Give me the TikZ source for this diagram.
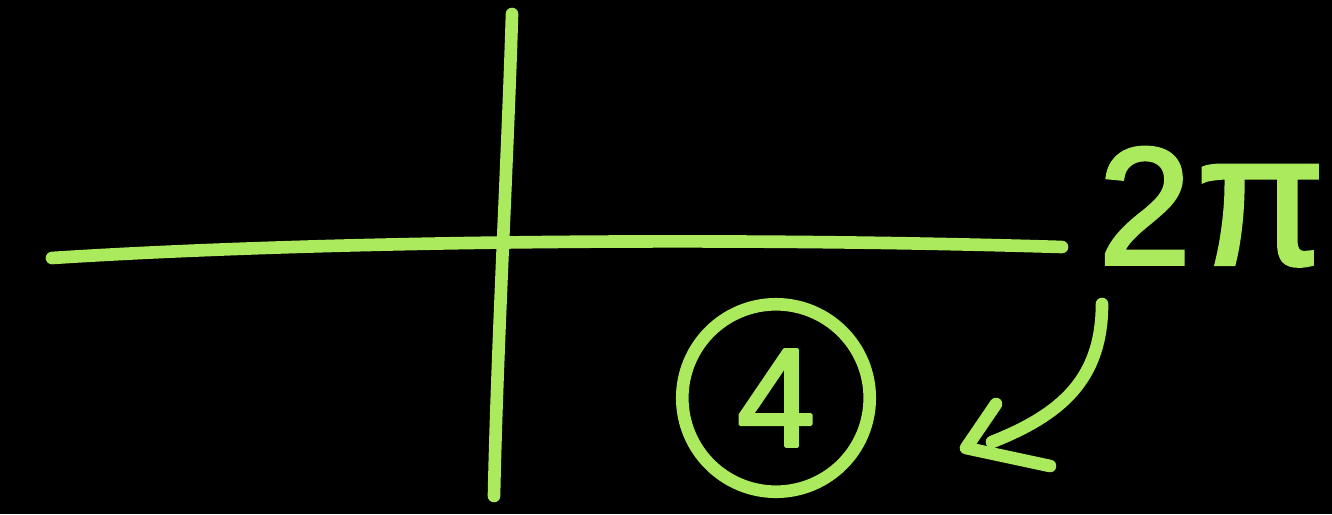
\documentclass[tikz,border=0pt]{standalone}
\usepackage{fontspec}
\setmainfont{Liberation Sans}
\newfontfamily\chalkfont[FakeBold=2.2]{Liberation Sans}
\definecolor{chalk}{RGB}{170,234,92}
\begin{document}
\begin{tikzpicture}[x=0.02cm,y=-0.02cm,
  stroke/.style={draw=chalk,line width=7.2pt,line cap=round,line join=round},
  lbl/.style={text=chalk,inner sep=0pt}]
\fill[black] (0,0) rectangle (1332,514);
\useasboundingbox (0,0) rectangle (1332,514);
% axes
\coordinate (hl) at (52,258);
\coordinate (hr) at (1062,247);
\coordinate (vt) at (512,14);
\coordinate (vb) at (494,496);
\draw[stroke] (hl) .. controls (300,242) and (700,236) .. (hr);
\draw[stroke] (vt) .. controls (508,150) and (497,350) .. (vb);
% 2pi label
\node[lbl,anchor=base west] (twopi) at (1098,264) {\chalkfont\fontsize{95}{95}\selectfont 2\kern3pt\fontsize{106}{106}\selectfont π};
% circled 4
\node[stroke,circle,minimum size=3.75cm,inner sep=0pt,text=chalk] (four) at (776,398) {\chalkfont\fontsize{80}{80}\selectfont 4};
% curved arrow
\coordinate (as) at (1102,304);
\coordinate (ae) at (992,442);
\coordinate (tip) at (966,448);
\coordinate (arm1) at (996,404);
\coordinate (arm2) at (1050,466);
\draw[stroke] (as) .. controls (1102,380) and (1060,415) .. (ae);
\draw[stroke] (arm1) -- (tip) -- (arm2);
\end{tikzpicture}
\end{document}
